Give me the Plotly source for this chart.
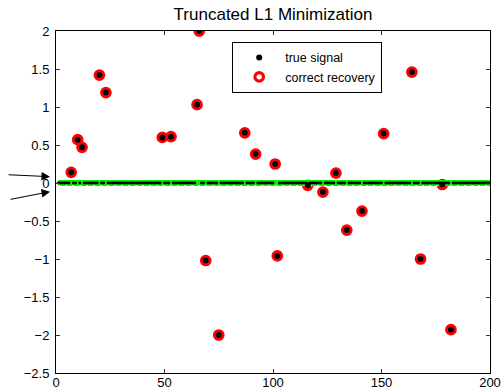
import numpy as np
import plotly.graph_objects as go

# Sparse test signal of length 200: support indices and their amplitudes
n = 200
support_idx = [7, 10, 12, 20, 23, 49, 53, 65, 66, 69, 75, 87, 92, 101, 102,
               116, 123, 129, 134, 141, 151, 164, 168, 178, 182]
support_val = [0.14, 0.57, 0.47, 1.42, 1.19, 0.60, 0.61, 1.03, 2.00, -1.02,
               -2.00, 0.66, 0.38, 0.25, -0.96, -0.03, -0.12, 0.13, -0.62,
               -0.37, 0.65, 1.46, -1.00, -0.02, -1.93]

x_ticks = [0, 50, 100, 150, 200]
y_ticks = [-2.5, -2, -1.5, -1, -0.5, 0, 0.5, 1, 1.5, 2]

idx = np.arange(1, n + 1)
true_signal = np.zeros(n)
true_signal[np.array(support_idx) - 1] = support_val
recovered = true_signal.copy()

on_support = true_signal != 0
zero_idx = idx[~on_support]

fig = go.Figure()

# recovered coefficients on the support (red rings)
fig.add_trace(go.Scatter(
    x=idx[on_support], y=recovered[on_support], mode="markers",
    name="correct recovery", legendrank=2,
    marker=dict(symbol="circle-open", size=8.5, color="red",
                line=dict(color="red", width=3.2)),
))

# recovered zero entries drawn as a thick green line
fig.add_trace(go.Scatter(
    x=idx, y=np.zeros(n), mode="lines", showlegend=False,
    line=dict(color="#00f000", width=6),
))
fig.add_trace(go.Scatter(
    x=idx, y=np.full(n, -0.035), mode="lines", showlegend=False,
    line=dict(color="#e8ffe8", width=1, dash="2px,5px"),
))

# true signal: zero entries as small dots along the line
fig.add_trace(go.Scatter(
    x=zero_idx, y=true_signal[~on_support], mode="markers", showlegend=False,
    marker=dict(symbol="circle", size=2.8, color="black"),
))
# true signal on the support
fig.add_trace(go.Scatter(
    x=idx[on_support], y=true_signal[on_support], mode="markers",
    name="true signal", legendrank=1,
    marker=dict(symbol="circle", size=6, color="black"),
))

axis_common = dict(
    showgrid=False, zeroline=False, showline=True, linecolor="black",
    linewidth=1, mirror="ticks", ticks="inside", ticklen=4, tickwidth=1,
    tickcolor="#333", automargin=False,
    tickfont=dict(family="Liberation Sans, Arial, sans-serif", size=13,
                  color="black"),
)

fig.update_xaxes(range=[0, 200], tickvals=x_ticks, ticklabelstandoff=-3,
                 **axis_common)
fig.update_yaxes(range=[-2.5, 2], tickvals=y_ticks, ticklabelstandoff=3,
                 **axis_common)

# arrows in the left margin pointing at the zero line
for tip_y, ax, ay in [(0.083, -43, -2), (-0.114, -41, 8)]:
    fig.add_annotation(
        x=-0.0138, y=tip_y, xref="paper", yref="y", text="",
        showarrow=True, ax=ax, ay=ay, axref="pixel", ayref="pixel",
        arrowhead=2, arrowsize=1.7, arrowwidth=1, arrowcolor="black",
    )

fig.update_layout(
    width=502, height=391,
    margin=dict(l=56, r=12, t=31, b=18),
    plot_bgcolor="white", paper_bgcolor="white",
    font=dict(family="Liberation Sans, Arial, sans-serif", color="black"),
    title=dict(text="Truncated L1 Minimization", x=0.5438, xanchor="center",
               y=0.963, yanchor="middle",
               font=dict(size=17, color="black")),
    legend=dict(x=0.406, y=0.968, xanchor="left", yanchor="top",
                bgcolor="white", bordercolor="black", borderwidth=1,
                font=dict(size=12.5), tracegroupgap=0, itemwidth=42),
    showlegend=True,
)

fig.write_html("out.html")
